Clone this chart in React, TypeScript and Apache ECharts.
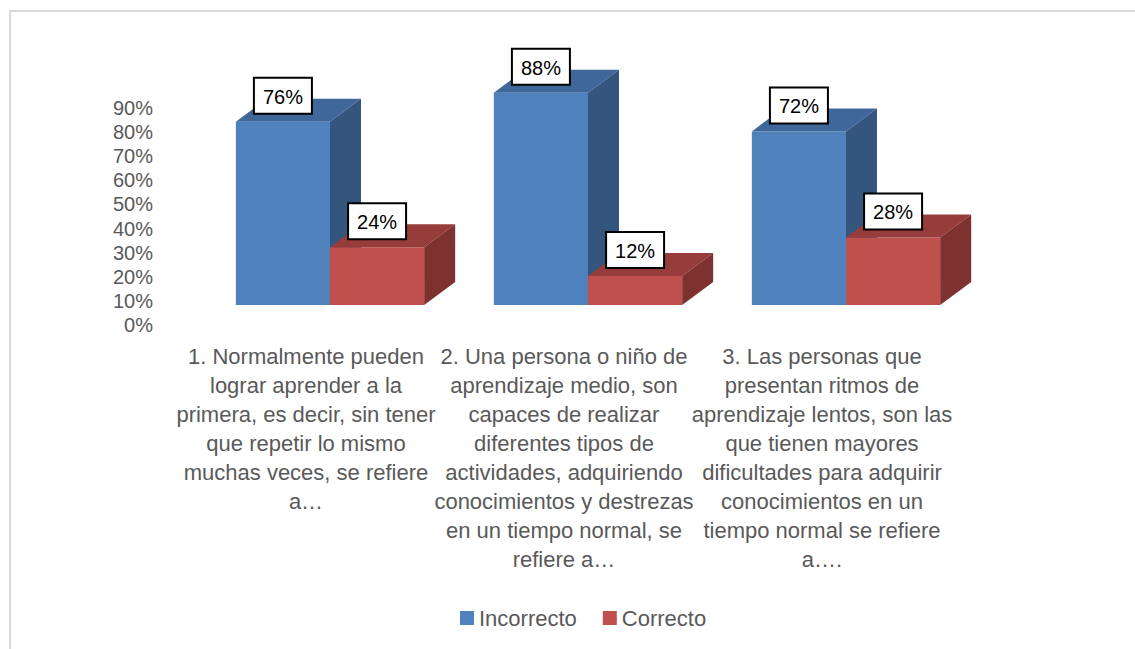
import React, { useEffect, useRef } from "react";
import * as echarts from "echarts";

const categories = [
  "1. Normalmente pueden\nlograr aprender a la\nprimera, es decir, sin tener\nque repetir lo mismo\nmuchas veces, se refiere\na…",
  "2. Una persona o niño de\naprendizaje medio, son\ncapaces de realizar\ndiferentes tipos de\nactividades, adquiriendo\nconocimientos y destrezas\nen un tiempo normal, se\nrefiere a…",
  "3. Las personas que\npresentan ritmos de\naprendizaje lentos, son las\nque tienen mayores\ndificultades para adquirir\nconocimientos en un\ntiempo normal se refiere\na….",
];
const seriesNames = ["Incorrecto", "Correcto"];
const incorrecto = [0.76, 0.88, 0.72];
const correcto = [0.24, 0.12, 0.28];

const FONT = "'Liberation Sans', Arial, sans-serif";
const palette = [
  { front: "#4F81BD", top: "#3F679A", side: "#34557E" },
  { front: "#C0504D", top: "#963D3B", side: "#7D3230" },
];

function makeRender(si: number) {
  return (params: any, api: any) => {
    const idx = api.value(0);
    const val = api.value(1);
    const [cx, y0] = api.coord([idx, 0]);
    const [, y1] = api.coord([idx, val]);
    const band = api.size([1, 0])[0];
    const w = band * 0.365;
    const ox = 24, oy = -20, dx = 31, dy = -23;
    const x = si === 0 ? cx + ox - w : cx + ox;
    const yt = y1 + oy;
    const yb = y0 + oy;
    const c = palette[si];
    const lx = x + w / 2;
    const ly = yt - 26;
    return {
      type: "group",
      children: [
        { type: "rect", shape: { x, y: yt, width: w, height: yb - yt }, style: { fill: c.front } },
        {
          type: "polygon",
          shape: { points: [[x, yt], [x + w, yt], [x + w + dx, yt + dy], [x + dx, yt + dy]] },
          style: { fill: c.top },
        },
        {
          type: "polygon",
          shape: { points: [[x + w, yt], [x + w + dx, yt + dy], [x + w + dx, yb + dy], [x + w, yb]] },
          style: { fill: c.side },
        },
        {
          type: "rect",
          shape: { x: lx - 29, y: ly - 18, width: 58, height: 36 },
          style: { fill: "#ffffff", stroke: "#000000", lineWidth: 2 },
        },
        {
          type: "text",
          style: {
            x: lx, y: ly + 1,
            text: Math.round(val * 100) + "%",
            align: "center", verticalAlign: "middle",
            fill: "#000000", font: `20px ${FONT}`,
          },
        },
      ],
    };
  };
}

export default function App() {
  const ref = useRef<HTMLDivElement>(null);
  useEffect(() => {
    const chart = echarts.init(ref.current!, null, { renderer: "svg" });
    chart.setOption({
      animation: false,
      backgroundColor: "#ffffff",
      graphic: [
        {
          type: "rect",
          shape: { x: 10, y: 11, width: 1200, height: 700 },
          style: { fill: "none", stroke: "#D9D9D9", lineWidth: 2 },
          silent: true,
        },
      ],
      grid: { left: 177, right: 184, top: 108, bottom: 324, containLabel: false },
      legend: {
        data: seriesNames,
        left: 455,
        top: 602,
        icon: "rect",
        itemWidth: 14,
        itemHeight: 14,
        itemGap: 26,
        textStyle: { color: "#595959", fontSize: 22, fontFamily: FONT },
      },
      xAxis: {
        type: "category",
        data: categories,
        axisLine: { show: false },
        axisTick: { show: false },
        axisLabel: {
          interval: 0,
          margin: 17,
          lineHeight: 29,
          color: "#595959",
          fontSize: 22,
          fontFamily: FONT,
          align: "center",
        },
      },
      yAxis: {
        type: "value",
        min: 0,
        max: 0.9,
        interval: 0.1,
        splitLine: { show: false },
        axisLine: { show: false },
        axisTick: { show: false },
        axisLabel: {
          margin: 24,
          color: "#595959",
          fontSize: 20,
          fontFamily: FONT,
          formatter: (v: number) => Math.round(v * 100) + "%",
        },
      },
      series: [
        {
          name: seriesNames[0],
          type: "custom",
          clip: false,
          itemStyle: { color: palette[0].front },
          renderItem: makeRender(0),
          data: incorrecto.map((v, i) => [i, v]),
          encode: { x: 0, y: 1 },
          z: 2,
        },
        {
          name: seriesNames[1],
          type: "custom",
          clip: false,
          itemStyle: { color: palette[1].front },
          renderItem: makeRender(1),
          data: correcto.map((v, i) => [i, v]),
          encode: { x: 0, y: 1 },
          z: 3,
        },
      ],
    });
    return () => chart.dispose();
  }, []);
  return (
    <div
      ref={ref}
      style={{ position: "absolute", left: 0, top: 0, width: 1135, height: 649 }}
    />
  );
}
